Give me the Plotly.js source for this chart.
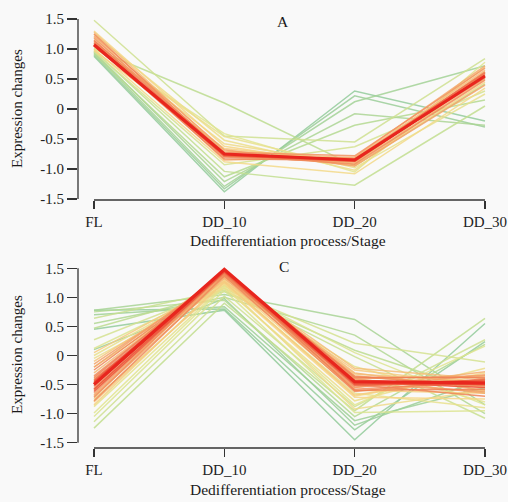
<!DOCTYPE html>
<html>
<head>
<meta charset="utf-8">
<script src="https://cdn.plot.ly/plotly-3.0.1.min.js"></script>
<style>html,body{margin:0;padding:0;background:#f9f9f9;}</style>
</head>
<body>
<div id="chart" style="width:508px;height:502px;"></div>
<script>
// Stages (x categories)
const stages = ['FL', 'DD_10', 'DD_20', 'DD_30'];
const yTicks = [-1.5, -1.0, -0.5, 0, 0.5, 1.0, 1.5];
const yTickText = ['-1.5', '-1.0', '-0.5', '0', '0.5', '1.0', '1.5'];

// Cluster A: one entry per gene profile (columns = stages), plus membership
const A_FL   = [0.88, 0.90, 0.93, 0.95, 0.92, 1.00, 0.97, 1.48, 0.96, 1.02, 1.05, 1.25, 1.10, 1.00, 1.30, 0.98, 1.28, 1.20, 1.15, 1.22, 1.12, 1.18, 1.25, 1.08, 1.14, 1.10, 1.05, 1.07];
const A_DD10 = [-1.38, -1.33, -1.29, -1.21, -1.13, 0.10, -1.04, -0.45, -0.93, -0.41, -0.46, -0.52, -0.58, -0.88, -0.62, -0.66, -0.70, -0.78, -0.85, -0.68, -0.80, -0.72, -0.76, -0.83, -0.74, -0.79, -0.77, -0.75];
const A_DD20 = [0.30, 0.22, 0.12, -0.08, -0.27, -0.95, -1.27, -0.55, -0.63, -1.05, -0.98, -1.02, -0.92, -1.08, -0.95, -0.88, -0.82, -0.90, -0.80, -0.95, -0.88, -0.78, -0.92, -0.86, -0.84, -0.83, -0.87, -0.85];
const A_DD30 = [-0.20, -0.30, 0.72, -0.27, 0.15, 0.42, 0.05, 0.84, 0.30, 0.78, 0.25, 0.60, 0.70, 0.35, 0.45, 0.62, 0.65, 0.50, 0.72, 0.40, 0.58, 0.68, 0.48, 0.62, 0.52, 0.60, 0.56, 0.55];
const A_member = [0.30, 0.32, 0.34, 0.36, 0.38, 0.40, 0.42, 0.46, 0.48, 0.52, 0.55, 0.58, 0.60, 0.62, 0.64, 0.66, 0.72, 0.75, 0.78, 0.80, 0.82, 0.84, 0.86, 0.88, 0.90, 0.92, 0.94, 1.00];

// Cluster C
const C_FL   = [0.45, 0.78, 0.10, 0.70, 0.78, 0.55, 0.75, 0.47, -1.25, 0.64, -1.14, 0.27, -0.99, -0.88, 0.00, -0.05, -0.75, -0.20, -0.40, -0.85, 0.05, -0.60, -0.30, -0.70, -0.45, -0.15, -0.65, -0.55, -0.35, -0.78, -0.25, -0.48, -0.58, -0.42, -0.52, -0.62, -0.50, -0.10, -0.80, -0.68, -0.20, -0.72, -0.38, -0.58, -0.45, -1.05, 0.12];
const C_DD10 = [0.78, 0.80, 0.98, 0.84, 1.05, 1.00, 0.95, 1.10, 0.90, 1.12, 1.02, 1.15, 1.18, 1.20, 1.25, 1.16, 1.22, 1.28, 1.24, 1.30, 1.27, 1.35, 1.38, 1.33, 1.40, 1.36, 1.42, 1.41, 1.43, 1.37, 1.40, 1.44, 1.45, 1.43, 1.46, 1.44, 1.48, 1.32, 1.26, 1.39, 1.41, 1.44, 1.45, 1.46, 1.47, 1.12, 1.20];
const C_DD20 = [-1.45, -1.28, -1.20, -1.12, 0.62, 0.35, -1.05, 0.09, -0.95, -0.02, -0.88, 0.21, -0.85, -0.19, -0.65, -0.78, -0.92, -0.70, -0.72, -0.60, -0.25, -0.22, -0.30, -0.55, -0.35, -0.40, -0.48, -0.58, -0.42, -0.62, -0.50, -0.38, -0.44, -0.52, -0.46, -0.45, -0.45, -0.32, -0.68, -0.40, -0.55, -0.36, -0.60, -0.50, -0.48, -0.98, 0.05];
const C_DD30 = [0.55, 0.24, -0.40, -0.55, -0.85, -1.00, 0.19, -0.65, 0.64, -1.08, 0.27, -0.11, 0.16, -0.80, -0.90, -0.22, -0.60, -0.30, -0.75, -0.65, -0.50, -0.40, -0.60, -0.28, -0.55, -0.35, -0.62, -0.45, -0.52, -0.40, -0.70, -0.38, -0.50, -0.43, -0.48, -0.55, -0.47, -0.45, -0.35, -0.65, -0.33, -0.52, -0.58, -0.42, -0.50, -0.95, -0.85];
const C_member = [0.30, 0.31, 0.32, 0.33, 0.35, 0.37, 0.38, 0.40, 0.42, 0.44, 0.46, 0.48, 0.52, 0.54, 0.56, 0.58, 0.60, 0.62, 0.64, 0.66, 0.68, 0.72, 0.74, 0.76, 0.78, 0.80, 0.82, 0.84, 0.86, 0.87, 0.88, 0.90, 0.91, 0.92, 0.93, 0.95, 1.00, 0.70, 0.68, 0.79, 0.81, 0.85, 0.89, 0.94, 0.96, 0.50, 0.50];

// membership -> colour
const stops = [[0.30,'#93cb9b'],[0.40,'#bcdc8f'],[0.52,'#e2e590'],[0.64,'#f6d686'],[0.76,'#f5b272'],[0.90,'#ef7c52'],[1.00,'#e8261e']];
function hex(h){return [parseInt(h.slice(1,3),16),parseInt(h.slice(3,5),16),parseInt(h.slice(5,7),16)];}
function colorOf(m){
  if (m <= stops[0][0]) return stops[0][1];
  for (let i = 1; i < stops.length; i++) {
    if (m <= stops[i][0]) {
      const t = (m - stops[i-1][0]) / (stops[i][0] - stops[i-1][0]);
      const a = hex(stops[i-1][1]), b = hex(stops[i][1]);
      const c = a.map((v,k)=>Math.round(v + (b[k]-v)*t));
      return 'rgb(' + c.join(',') + ')';
    }
  }
  return stops[stops.length-1][1];
}

const xs = [0, 1, 2, 3];
const traces = [];
function addPanel(fl, d10, d20, d30, mem, xa, ya){
  const order = mem.map((m, i) => i).sort((a, b) => mem[a] - mem[b]);
  order.forEach(i => {
    const top = mem[i] >= 1;
    traces.push({
      type: 'scatter', mode: 'lines', x: xs, y: [fl[i], d10[i], d20[i], d30[i]],
      xaxis: xa, yaxis: ya, hoverinfo: 'skip', showlegend: false,
      line: {color: colorOf(mem[i]), width: top ? 3.2 : 1.5},
      opacity: top ? 1 : 0.85
    });
  });
}
addPanel(A_FL, A_DD10, A_DD20, A_DD30, A_member, 'x', 'y');
addPanel(C_FL, C_DD10, C_DD20, C_DD30, C_member, 'x2', 'y2');

const serif = 'Liberation Serif';
const axisCol = '#333333';
const xRange = [-0.1228, 3.0384];
function xAxis(anchor){
  return {anchor: anchor, range: xRange, tickvals: xs, ticktext: stages, ticks: 'outside', ticklen: 8,
    tickwidth: 1.3, tickcolor: axisCol, showline: false, showgrid: false, zeroline: false,
    ticklabeloverflow: 'allow',
    tickfont: {family: serif, size: 15, color: '#222'}, fixedrange: true};
}
function yAxis(anchor, domain, range){
  return {anchor: anchor, domain: domain, range: range, tickvals: yTicks, ticktext: yTickText,
    ticks: 'outside', ticklen: 10, tickwidth: 1.3, tickcolor: axisCol, showline: false, showgrid: false,
    zeroline: false, tickfont: {family: serif, size: 15, color: '#222'}, fixedrange: true};
}
function ann(text, x, y, size, angle){
  return {text: text, xref: 'paper', yref: 'paper', x: x, y: y, xanchor: 'center', yanchor: 'middle',
    showarrow: false, textangle: angle || 0, font: {family: serif, size: size, color: '#1a1a1a'}};
}

const layout = {
  width: 508, height: 502,
  margin: {l: 78, r: 18, t: 0, b: 0},
  paper_bgcolor: '#f9f9f9', plot_bgcolor: '#f9f9f9',
  xaxis: xAxis('y'),
  yaxis: yAxis('x', [0.6016, 0.9701], [-1.5167, 1.5667]),
  xaxis2: xAxis('y2'),
  yaxis2: yAxis('x2', [0.1076, 0.4781], [-1.591, 1.608]),
  shapes: [
    {type: 'line', xref: 'paper', x0: 0, x1: 0, yref: 'y', y0: -1.5, y1: 1.5, line: {color: axisCol, width: 1.3}},
    {type: 'line', xref: 'x', x0: 0, x1: 3, yref: 'y domain', y0: 0, y1: 0, line: {color: axisCol, width: 1.3}},
    {type: 'line', xref: 'paper', x0: 0, x1: 0, yref: 'y2', y0: -1.5, y1: 1.5, line: {color: axisCol, width: 1.3}},
    {type: 'line', xref: 'x2', x0: 0, x1: 3, yref: 'y2 domain', y0: 0, y1: 0, line: {color: axisCol, width: 1.3}}
  ],
  annotations: [
    ann('A', 0.4976, 0.958, 15.5),
    ann('C', 0.5, 0.47, 15.5),
    ann('Dedifferentiation process/Stage', 0.51, 0.52, 15.5),
    ann('Dedifferentiation process/Stage', 0.51, 0.024, 15.5),
    ann('Expression changes', -0.148, 0.783, 15, -90),
    ann('Expression changes', -0.148, 0.293, 15, -90)
  ]
};

Plotly.newPlot('chart', traces, layout, {displayModeBar: false, staticPlot: true});
</script>
</body>
</html>
